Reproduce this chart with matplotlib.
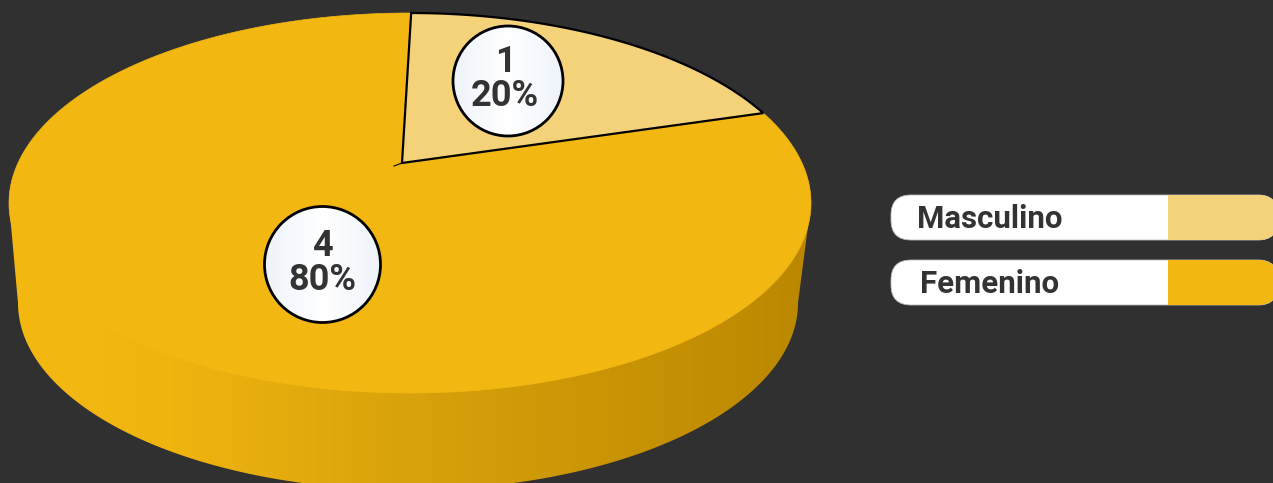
import numpy as np
import matplotlib
matplotlib.use('Agg')
import matplotlib.pyplot as plt
from matplotlib.colors import LinearSegmentedColormap
from matplotlib.patches import Polygon, Circle, FancyBboxPatch, Rectangle

labels = ['Masculino', 'Femenino']
values = [1, 4]
colors = ['#F4D27A', '#F2B711']

BG = '#303030'
TEXT = '#333333'

plt.rcParams['font.family'] = ['Roboto', 'DejaVu Sans']

fig = plt.figure(figsize=(12.73, 4.83), dpi=100, facecolor=BG)
ax = fig.add_axes([0, 0, 1, 1])
ax.set_axis_off()

# the whole picture is laid out in pixels, y going down
cx, cy, rx, ry = 410, 203, 401, 190      # top face
cx2, cy2, rx2, ry2 = 408, 303, 390, 187  # bottom edge of the wall
apex = np.array([402, 163])              # vanishing centre of the pie


def to_face(theta):
    # circle angle (clockwise from up) -> pixel, perspective boost of the disc
    u, v = np.sin(theta), np.cos(theta)  # v points up
    p = np.array([(apex[0] - cx) / rx, (cy - apex[1]) / ry])
    n = np.hypot(*p)
    e = p / n
    par = u * e[0] + v * e[1]
    perp = -u * e[1] + v * e[0]
    k = 1 + n * par
    par2 = (par + n) / k
    perp2 = perp * np.sqrt(1 - n ** 2) / k
    u2 = par2 * e[0] - perp2 * e[1]
    v2 = par2 * e[1] + perp2 * e[0]
    return cx + rx * u2, cy - ry * v2


# wall with horizontal shading
t = np.linspace(np.pi, 0, 200)
wall_x = np.r_[cx - rx, cx2 + rx2 * np.cos(t), cx + rx]
wall_y = np.r_[cy, cy2 + ry2 * np.sin(t), cy]
wall = Polygon(np.c_[wall_x, wall_y], closed=True, fc='none', ec='none')
ax.add_patch(wall)
shade = LinearSegmentedColormap.from_list(
    'wall', [(0, '#F4B911'), (0.2, '#F0B40F'), (0.5, '#D7A20B'), (1, '#BB8700')])
im = ax.imshow(np.linspace(0, 1, 256)[None, :], cmap=shade, aspect='auto',
               extent=[cx - rx, cx + rx, 483, cy], zorder=1)
im.set_clip_path(wall)

# top face slices
shares = np.array(values) / sum(values)
edges = np.r_[0, np.cumsum(shares)] * 2 * np.pi + np.deg2rad(1.5)
for i in [1, 0]:
    th = np.linspace(edges[i], edges[i + 1], 300)
    x, y = to_face(th)
    pts = np.c_[np.r_[apex[0], x], np.r_[apex[1], y]]
    if i == 0:
        ax.add_patch(Polygon(pts, closed=True, fc=colors[i], ec='black', lw=1.6, zorder=3))
    else:
        ax.add_patch(Polygon(pts, closed=True, fc=colors[i], ec=colors[i], lw=0.5, zorder=2))
ax.plot([394, apex[0]], [166, apex[1]], color='black', lw=0.8, zorder=3)

# value bubbles
bubble = LinearSegmentedColormap.from_list('bubble', ['#EEF3FA', '#FFFFFF', '#EEF3FA'])
bubble_pos = [(508, 81, 55), (322.5, 264.5, 58)]
text_pos = [505, 322]
for (bx, by, r), tx, val, share in zip(bubble_pos, text_pos, values, shares):
    c = Circle((bx, by), r, fc='none', ec='black', lw=2, zorder=6)
    ax.add_patch(c)
    g = ax.imshow(np.linspace(0, 1, 128)[None, :], cmap=bubble, aspect='auto',
                  extent=[bx - r, bx + r, by + r, by - r], zorder=5)
    g.set_clip_path(Circle((bx, by), r, transform=ax.transData))
    ax.text(tx, by - 19, str(val), color=TEXT, fontsize=26, fontweight='bold',
            ha='center', va='center', zorder=7)
    ax.text(tx, by + 15, f'{share * 100:.0f}%', color=TEXT, fontsize=26, fontweight='bold',
            ha='center', va='center', zorder=7)

# legend pills, they run just past the right edge
pill_y = [195, 260]
text_x = [917, 920]
for name, col, py, tx in zip(labels, colors, pill_y, text_x):
    pill = FancyBboxPatch((911, py + 20), 347, 5, boxstyle='round,pad=20,rounding_size=20',
                          fc='white', ec='#BBBBBB', lw=0.6, zorder=2)
    ax.add_patch(pill)
    part = Rectangle((1168, py), 120, 45, fc=col, ec='none', zorder=3)
    ax.add_patch(part)
    part.set_clip_path(pill)
    ax.text(tx, py + 24, name, color=TEXT, fontsize=22.5, fontweight='bold',
            ha='left', va='center', zorder=4)

ax.set_xlim(0, 1273)
ax.set_ylim(483, 0)

fig.savefig('out.png', dpi=100, facecolor=BG)
